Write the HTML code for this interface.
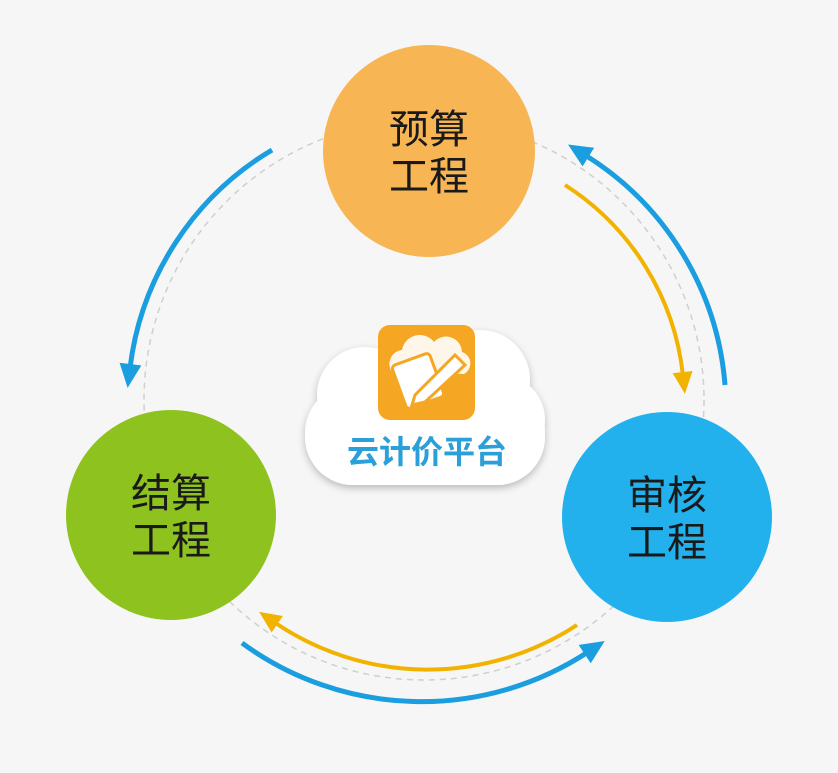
<!DOCTYPE html>
<html><head><meta charset="utf-8"><style>
html,body{margin:0;padding:0;background:#f6f6f6;}
body{width:838px;height:768px;overflow:hidden;}
text{font-family:"Liberation Sans","Noto Sans CJK SC",sans-serif;}
</style></head><body>
<svg width="838" height="768" viewBox="0 0 838 768" xmlns="http://www.w3.org/2000/svg">
<defs>
<marker id="mb" markerUnits="userSpaceOnUse" markerWidth="24" markerHeight="22" refX="4" refY="11" orient="auto"><path d="M0,0 L24,11 L0,22 Z" fill="#1a9ee0"/></marker>
<marker id="my" markerUnits="userSpaceOnUse" markerWidth="22" markerHeight="20" refX="4" refY="10" orient="auto"><path d="M0,0 L22,10 L0,20 Z" fill="#f2b300"/></marker>
<filter id="sh" x="-20%" y="-20%" width="140%" height="150%"><feGaussianBlur in="SourceAlpha" stdDeviation="4"/><feOffset dy="3"/><feComponentTransfer><feFuncA type="linear" slope="0.25"/></feComponentTransfer><feMerge><feMergeNode/><feMergeNode in="SourceGraphic"/></feMerge></filter>
</defs>
<circle cx="424" cy="400" r="280" fill="none" stroke="#cfcfcf" stroke-width="1.5" stroke-dasharray="6,5"/>
<!-- blue arcs -->
<path d="M272,150 A295,295 0 0 0 130,368" fill="none" stroke="#1a9ee0" stroke-width="5" marker-end="url(#mb)"/>
<path d="M725,385 A298,298 0 0 0 585,155" fill="none" stroke="#1a9ee0" stroke-width="5" marker-end="url(#mb)"/>
<path d="M242,643 A304,304 0 0 0 588,652" fill="none" stroke="#1a9ee0" stroke-width="5" marker-end="url(#mb)"/>
<!-- yellow arcs -->
<path d="M565,185 A259,259 0 0 1 683,376" fill="none" stroke="#f2b300" stroke-width="4" marker-end="url(#my)"/>
<path d="M577,625 A272,272 0 0 1 274,622" fill="none" stroke="#f2b300" stroke-width="4" marker-end="url(#my)"/>
<!-- circles -->
<circle cx="429" cy="151" r="106" fill="#f8b554"/>
<circle cx="171" cy="515" r="105" fill="#8dc21f"/>
<circle cx="667" cy="517" r="105" fill="#22b1ec"/>
<g font-size="40" fill="#1a1a1a" text-anchor="middle">
<text x="429" y="143">预算</text><text x="429" y="190">工程</text>
<text x="171" y="507">结算</text><text x="171" y="554">工程</text>
<text x="667" y="509">审核</text><text x="667" y="556">工程</text>
</g>
<!-- cloud -->
<g filter="url(#sh)" fill="#fff">
<rect x="305" y="385" width="240" height="100" rx="48"/>
<circle cx="365" cy="395" r="48"/>
<circle cx="480" cy="380" r="50"/>
<circle cx="425" cy="372" r="45"/>
<circle cx="500" cy="420" r="45"/>
</g>
<rect x="378" y="325" width="97" height="95" rx="12" fill="#f5a623"/>
<path d="M392,372 a14,14 0 0 1 10,-22 a18,18 0 0 1 32,-8 a16,16 0 0 1 28,10 a12,12 0 0 1 2,22 z" fill="#fff" opacity="0.9"/>
<rect x="398" y="358" width="40" height="46" rx="4" fill="#fff" transform="rotate(-20 418 381)" stroke="#f5a623" stroke-width="3"/>
<path d="M415,395 L455,355 L465,365 L425,402 L412,405 Z" fill="#fff" stroke="#f5a623" stroke-width="3"/>
<text x="427" y="463" font-size="32" fill="#2a9fd8" text-anchor="middle" font-weight="bold">云计价平台</text>
</svg>
</body></html>
